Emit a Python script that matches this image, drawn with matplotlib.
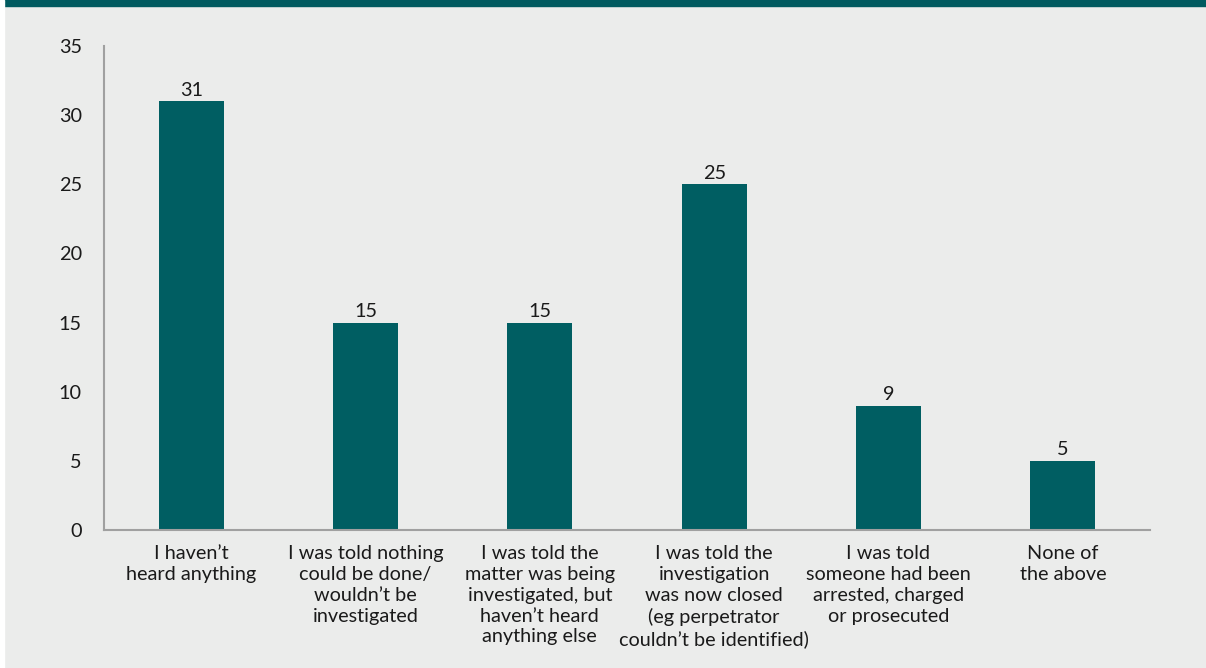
import matplotlib.pyplot as plt
from matplotlib.patches import Rectangle

categories = [
    "I haven\u2019t\nheard anything",
    "I was told nothing\ncould be done/\nwouldn\u2019t be\ninvestigated",
    "I was told the\nmatter was being\ninvestigated, but\nhaven\u2019t heard\nanything else",
    "I was told the\ninvestigation\nwas now closed\n(eg perpetrator\ncouldn\u2019t be identified)",
    "I was told\nsomeone had been\narrested, charged\nor prosecuted",
    "None of\nthe above",
]
values = [31, 15, 15, 25, 9, 5]
yticks = [0, 5, 10, 15, 20, 25, 30, 35]

teal = "#005E62"
bg = "#EBECEB"
axis_grey = "#A0A0A0"
fs = 14.3

plt.rcParams["font.family"] = ["Lato", "DejaVu Sans"]

fig = plt.figure(figsize=(12.06, 6.68), dpi=100)
fig.patch.set_facecolor(bg)

# header strip and left border
fig.patches.append(Rectangle((4 / 1206, 1 - 6 / 668), 1, 6 / 668,
                             transform=fig.transFigure, color="#005A5F", zorder=0))
fig.patches.append(Rectangle((0, 0), 4 / 1206, 1,
                             transform=fig.transFigure, color="white", zorder=0))

ax = fig.add_axes([104 / 1206, 138 / 668, 1046 / 1206, 484 / 668])
ax.set_facecolor(bg)

x = range(len(categories))
bars = ax.bar(x, values, width=0.373, color=teal)
for b, v in zip(bars, values):
    ax.text(b.get_x() + b.get_width() / 2, v + 0.2, str(v),
            ha="center", va="bottom", fontsize=fs, color="#1a1a1a")

ax.set_xlim(-0.5, len(categories) - 0.5)
ax.set_ylim(0, 35)
ax.set_yticks(yticks)
ax.set_xticks(list(x))
ax.set_xticklabels(categories, fontsize=fs, color="#1a1a1a", linespacing=1.27)
ax.tick_params(axis="both", length=0, labelsize=fs, colors="#1a1a1a")
ax.tick_params(axis="y", pad=16)
ax.tick_params(axis="x", pad=11)

for side in ["top", "right"]:
    ax.spines[side].set_visible(False)
for side in ["left", "bottom"]:
    ax.spines[side].set_color(axis_grey)
    ax.spines[side].set_linewidth(1.5)

fig.savefig("out.png", dpi=100, facecolor=bg)
